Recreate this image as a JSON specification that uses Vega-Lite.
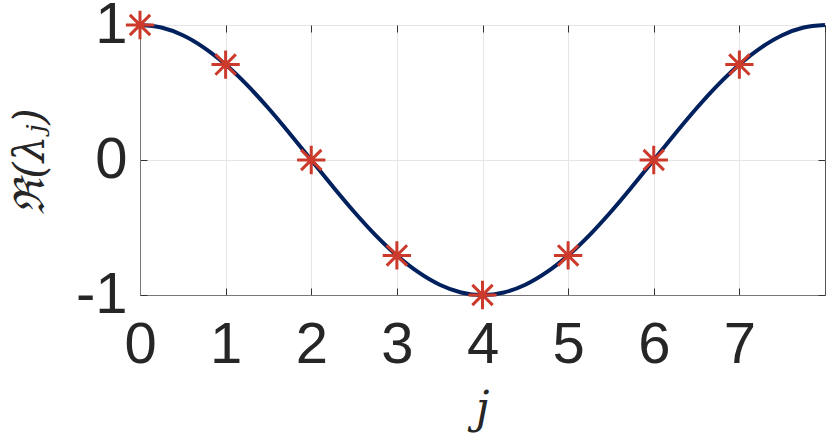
{
  "$schema": "https://vega.github.io/schema/vega-lite/v6.json",
  "autosize": {"type": "none"},
  "width": 685,
  "height": 270,
  "padding": {"left": 140, "top": 25, "right": 5, "bottom": 144},
  "background": "white",
  "config": {
    "view": {"stroke": "#555555", "strokeWidth": 1},
    "axis": {
      "labelFont": "Liberation Sans",
      "labelFontSize": 58,
      "labelColor": "#262626",
      "labelFlush": false,
      "labelOverlap": false,
      "labelBound": false,
      "domainColor": "#777777",
      "tickColor": "#333333",
      "gridColor": "#e6e6e6",
      "gridWidth": 1,
      "tickSize": -7,
      "titleColor": "#262626"
    }
  },
  "datasets": {
    "curve": [
      {"j": 0, "v": 1}, {"j": 0.25, "v": 0.981}, {"j": 0.5, "v": 0.924}, {"j": 0.75, "v": 0.831},
      {"j": 1, "v": 0.707}, {"j": 1.25, "v": 0.556}, {"j": 1.5, "v": 0.383}, {"j": 1.75, "v": 0.195},
      {"j": 2, "v": 0}, {"j": 2.25, "v": -0.195}, {"j": 2.5, "v": -0.383}, {"j": 2.75, "v": -0.556},
      {"j": 3, "v": -0.707}, {"j": 3.25, "v": -0.831}, {"j": 3.5, "v": -0.924}, {"j": 3.75, "v": -0.981},
      {"j": 4, "v": -1}, {"j": 4.25, "v": -0.981}, {"j": 4.5, "v": -0.924}, {"j": 4.75, "v": -0.831},
      {"j": 5, "v": -0.707}, {"j": 5.25, "v": -0.556}, {"j": 5.5, "v": -0.383}, {"j": 5.75, "v": -0.195},
      {"j": 6, "v": 0}, {"j": 6.25, "v": 0.195}, {"j": 6.5, "v": 0.383}, {"j": 6.75, "v": 0.556},
      {"j": 7, "v": 0.707}, {"j": 7.25, "v": 0.831}, {"j": 7.5, "v": 0.924}, {"j": 7.75, "v": 0.981},
      {"j": 8, "v": 1}
    ],
    "pts": [
      {"j": 0, "v": 1}, {"j": 1, "v": 0.707}, {"j": 2, "v": 0}, {"j": 3, "v": -0.707},
      {"j": 4, "v": -1}, {"j": 5, "v": -0.707}, {"j": 6, "v": 0}, {"j": 7, "v": 0.707}
    ]
  },
  "layer": [
    {
      "data": {"name": "curve"},
      "mark": {"type": "line", "color": "#01205e", "strokeWidth": 4, "interpolate": "monotone"},
      "encoding": {
        "x": {
          "field": "j", "type": "quantitative",
          "scale": {"domain": [0, 8], "nice": false, "zero": false},
          "axis": {
            "values": [0, 1, 2, 3, 4, 5, 6, 7],
            "gridValues": [0, 1, 2, 3, 4, 5, 6, 7, 8],
            "grid": true,
            "labelPadding": 28,
            "labelExpr": "'' + datum.value",
            "title": "j",
            "titleFont": "DejaVu Serif",
            "titleFontStyle": "italic",
            "titleFontWeight": "normal",
            "titleFontSize": 44,
            "titleX": 342,
            "titleY": 127,
            "titleBaseline": "alphabetic",
            "titleAlign": "center"
          }
        },
        "y": {
          "field": "v", "type": "quantitative",
          "scale": {"domain": [-1, 1], "nice": false, "zero": false},
          "axis": {
            "values": [-1, 0, 1],
            "grid": true,
            "labelPadding": 20,
            "labelExpr": "'' + datum.value",
            "title": "ℜ(λⱼ)",
            "titleFont": "DejaVu Serif",
            "titleFontStyle": "italic",
            "titleFontWeight": "normal",
            "titleFontSize": 42,
            "titleAngle": -90,
            "titleX": -110,
            "titleY": 136,
            "titleAlign": "center",
            "titleBaseline": "middle"
          }
        }
      }
    },
    {
      "data": {"name": "pts"},
      "mark": {
        "type": "point",
        "shape": "M-1,0L1,0M0,-1L0,1M-0.72,-0.72L0.72,0.72M-0.72,0.72L0.72,-0.72",
        "size": 800,
        "stroke": "#cc3a2c",
        "strokeWidth": 3,
        "filled": false,
        "opacity": 1
      },
      "encoding": {
        "x": {
          "field": "j", "type": "quantitative",
          "axis": {"orient": "top", "values": [0, 1, 2, 3, 4, 5, 6, 7, 8], "labels": false, "grid": false, "domain": false, "title": null}
        },
        "y": {
          "field": "v", "type": "quantitative",
          "axis": {"orient": "right", "values": [-1, 0, 1], "labels": false, "grid": false, "domain": false, "title": null}
        }
      }
    }
  ],
  "resolve": {"axis": {"x": "independent", "y": "independent"}}
}
